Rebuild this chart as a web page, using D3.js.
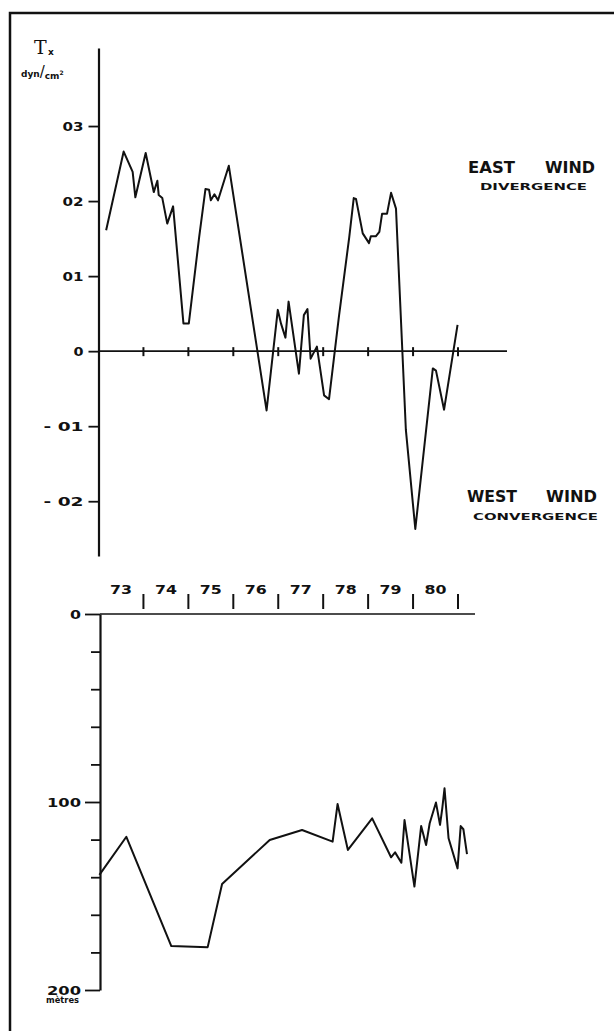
<!DOCTYPE html>
<html>
<head>
<meta charset="utf-8">
<script src="https://cdn.jsdelivr.net/npm/d3@7"></script>
<style>
body { margin: 0; background: #fff; }
svg text { font-family: "DejaVu Sans", sans-serif; font-weight: bold; fill: #111; }
</style>
</head>
<body>
<svg width="614" height="1031"></svg>
<script>
// wind stress Tx (dyn/cm2) against time in years
const windYears = [1973.17, 1973.56, 1973.76, 1973.82, 1974.05, 1974.23, 1974.31, 1974.34, 1974.42, 1974.53,
    1974.66, 1974.89, 1975.01, 1975.24, 1975.38, 1975.46, 1975.50, 1975.58, 1975.66, 1975.90,
    1976.74, 1976.99, 1977.06, 1977.16, 1977.23, 1977.46, 1977.57, 1977.65, 1977.72, 1977.86,
    1978.02, 1978.13, 1978.35, 1978.58, 1978.68, 1978.73, 1978.88, 1979.02, 1979.06, 1979.17,
    1979.25, 1979.31, 1979.42, 1979.51, 1979.62, 1979.84, 1980.05, 1980.44, 1980.51, 1980.69, 1980.99];
const windStress = [0.161, 0.266, 0.239, 0.205, 0.264, 0.212, 0.227, 0.208, 0.204, 0.170,
    0.193, 0.037, 0.037, 0.152, 0.216, 0.215, 0.201, 0.209, 0.201, 0.247,
    -0.079, 0.055, 0.037, 0.018, 0.066, -0.030, 0.048, 0.056, -0.010, 0.006,
    -0.059, -0.064, 0.046, 0.152, 0.204, 0.203, 0.157, 0.144, 0.153, 0.153,
    0.159, 0.183, 0.183, 0.211, 0.190, -0.105, -0.237, -0.023, -0.026, -0.078, 0.035];

// depth (metres) against time
const depthYears = [1973.02, 1973.62, 1974.62, 1975.43, 1975.75, 1976.81, 1977.53, 1978.21, 1978.32, 1978.55,
    1979.09, 1979.51, 1979.60, 1979.74, 1979.81, 1980.03, 1980.18, 1980.29, 1980.37, 1980.51,
    1980.60, 1980.65, 1980.70, 1980.79, 1980.99, 1981.06, 1981.12, 1981.20];
const depthMetres = [138.8, 118.5, 176.6, 177.2, 143.6, 120.2, 114.9, 121.1, 101.1, 125.5,
    108.7, 129.4, 126.8, 132.3, 109.6, 145.0, 112.8, 122.9, 111.3, 100.3,
    112.2, 103.4, 92.7, 119.3, 135.3, 112.8, 114.5, 127.7];

const stressTicks = [0.3, 0.2, 0.1, 0, -0.1, -0.2];
const stressLabels = ['03', '02', '01', '0', '- 01', '- 02'];
const yearStarts = [1973, 1974, 1975, 1976, 1977, 1978, 1979, 1980];
const yearLabels = ['73', '74', '75', '76', '77', '78', '79', '80'];
const depthTicks = [0, 20, 40, 60, 80, 100, 120, 140, 160, 180, 200];
const depthMajor = [0, 100, 200];

const svg = d3.select('svg');

const x = d3.scaleLinear().domain([1973, 1981]).range([98.5, 458]);
const yTop = d3.scaleLinear().domain([-0.273, 0.404]).range([556, 48]);
const yDepth = d3.scaleLinear().domain([0, 200]).range([614, 990]);

// outer frame
svg.append('path')
    .attr('d', 'M10,1031V13H614')
    .attr('fill', 'none').attr('stroke', '#111').attr('stroke-width', 2.5);

// ---- top chart ----
const axTop = svg.append('g').attr('transform', `translate(${x(1973)},0)`)
    .call(d3.axisLeft(yTop).tickValues(stressTicks).tickSize(10).tickSizeOuter(0)
        .tickFormat((d, i) => stressLabels[i]));
axTop.select('.domain').attr('stroke', '#111').attr('stroke-width', 2.2);
axTop.selectAll('.tick line').attr('stroke', '#111').attr('stroke-width', 1.8);
axTop.selectAll('.tick text').attr('x', -15).attr('dy', '0.35em')
    .attr('textLength', d => d < 0 ? 40 : (d === 0 ? 10 : 21))
    .attr('lengthAdjust', 'spacingAndGlyphs')
    .style('font-size', '12px').attr('fill', '#111');

// zero line with year ticks
svg.append('line')
    .attr('x1', x(1973)).attr('x2', 507)
    .attr('y1', yTop(0)).attr('y2', yTop(0))
    .attr('stroke', '#111').attr('stroke-width', 1.6);
svg.selectAll('.ytick')
    .data(yearStarts.map(d => d + 1))
    .join('line').attr('class', 'ytick')
    .attr('x1', d => x(d)).attr('x2', d => x(d))
    .attr('y1', yTop(0) - 4).attr('y2', yTop(0) + 5)
    .attr('stroke', '#111').attr('stroke-width', 2);

const windLine = d3.line().x(d => x(d[0])).y(d => yTop(d[1]));
svg.append('path')
    .datum(d3.zip(windYears, windStress))
    .attr('d', windLine)
    .attr('fill', 'none').attr('stroke', '#111').attr('stroke-width', 2)
    .attr('stroke-linejoin', 'round');

// unit label
svg.append('text').attr('x', 34).attr('y', 54).text('T')
    .style('font-family', '"DejaVu Serif", serif').style('font-weight', 'normal')
    .style('font-size', '19px');
svg.append('text').attr('x', 48).attr('y', 55).text('x').style('font-size', '9px');
const unit = svg.append('text').attr('x', 21).attr('y', 77).style('font-size', '9px');
unit.append('tspan').text('dyn');
unit.append('tspan').text('/').style('font-size', '15px').style('font-weight', 'normal');
unit.append('tspan').text('cm').attr('dy', 2);
unit.append('tspan').text('2').attr('dy', -4).style('font-size', '6px');

// side notes
const notes = [
    { t: 'EAST', x: 468, y: 173, w: 47, s: 15 },
    { t: 'WIND', x: 545, y: 173, w: 50, s: 15 },
    { t: 'DIVERGENCE', x: 480, y: 190, w: 107, s: 9.5 },
    { t: 'WEST', x: 467, y: 502, w: 50, s: 15 },
    { t: 'WIND', x: 546, y: 502, w: 51, s: 15 },
    { t: 'CONVERGENCE', x: 473, y: 520, w: 125, s: 9.5 }
];
svg.selectAll('.note').data(notes).join('text').attr('class', 'note')
    .attr('x', d => d.x).attr('y', d => d.y)
    .attr('textLength', d => d.w).attr('lengthAdjust', 'spacingAndGlyphs')
    .style('font-size', d => d.s + 'px')
    .text(d => d.t);

// ---- year strip ----
svg.selectAll('.yl').data(yearLabels).join('text').attr('class', 'yl')
    .attr('x', (d, i) => x(yearStarts[i] + 0.5)).attr('y', 594)
    .attr('text-anchor', 'middle')
    .attr('textLength', 22).attr('lengthAdjust', 'spacingAndGlyphs')
    .style('font-size', '13px').text(d => d);
svg.selectAll('.sep').data(yearStarts.map(d => d + 1)).join('line').attr('class', 'sep')
    .attr('x1', d => x(d)).attr('x2', d => x(d))
    .attr('y1', 594).attr('y2', 609)
    .attr('stroke', '#111').attr('stroke-width', 2);

// ---- bottom chart ----
const axDepth = svg.append('g').attr('transform', `translate(${x(1973) + 1.5},0)`)
    .call(d3.axisLeft(yDepth).tickValues(depthTicks).tickSize(9).tickSizeOuter(0)
        .tickFormat(d => depthMajor.includes(d) ? d : ''));
axDepth.select('.domain').attr('stroke', '#111').attr('stroke-width', 2.2);
axDepth.selectAll('.tick line').attr('stroke', '#111').attr('stroke-width', 1.8)
    .attr('x2', d => depthMajor.includes(d) ? -15 : -9);
axDepth.selectAll('.tick text').attr('x', -19).attr('dy', '0.35em')
    .filter(d => depthMajor.includes(d))
    .attr('textLength', d => d === 0 ? 11 : 34).attr('lengthAdjust', 'spacingAndGlyphs')
    .style('font-size', '12px').attr('fill', '#111');

svg.append('line')
    .attr('x1', x(1973) + 1.5).attr('x2', 475)
    .attr('y1', yDepth(0)).attr('y2', yDepth(0))
    .attr('stroke', '#111').attr('stroke-width', 1.6);

svg.append('text').attr('x', 46).attr('y', 1003).text('mètres')
    .attr('textLength', 33).attr('lengthAdjust', 'spacingAndGlyphs')
    .style('font-size', '8px');

const depthLine = d3.line().x(d => x(d[0])).y(d => yDepth(d[1]));
svg.append('path')
    .datum(d3.zip(depthYears, depthMetres))
    .attr('d', depthLine)
    .attr('fill', 'none').attr('stroke', '#111').attr('stroke-width', 2)
    .attr('stroke-linejoin', 'round');
</script>
</body>
</html>
